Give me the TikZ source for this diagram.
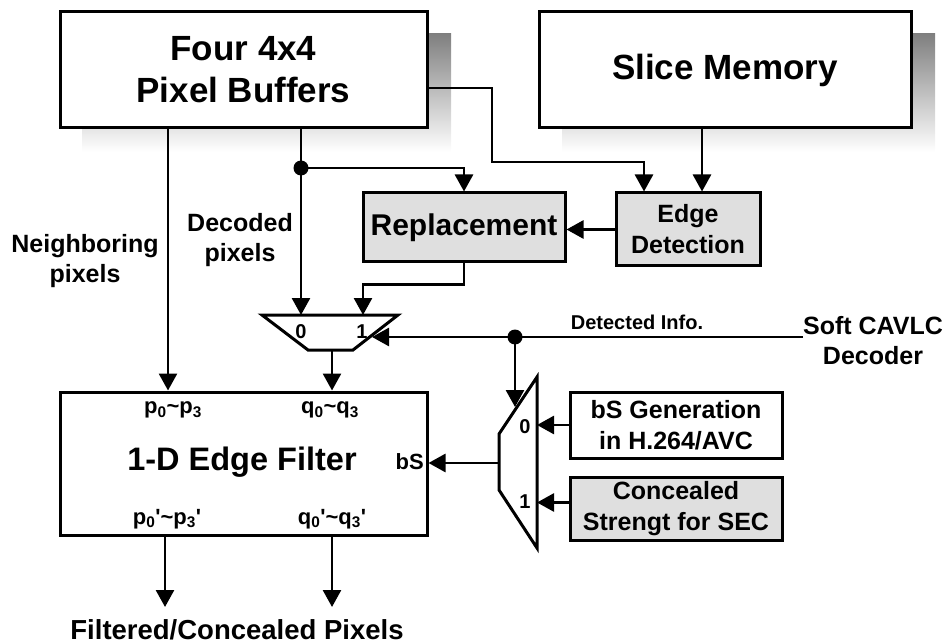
\documentclass[tikz,border=0pt]{standalone}
\usepackage{fontspec}
\setmainfont{Liberation Sans}
\usetikzlibrary{arrows.meta,calc}
\definecolor{shade}{HTML}{959595}
\definecolor{lite}{HTML}{DFDFDF}
\newcommand\fsz[2]{\fontsize{#1}{#2}\selectfont}
\begin{document}
\begin{tikzpicture}[x=1pt,y=-1pt,
  every node/.style={inner sep=0pt, align=center},
  box/.style={draw, line width=3pt, fill=white, inner sep=0pt, align=center},
  arr/.style={line width=2.7pt, -{Triangle[length=17pt,width=18pt]}},
  muxs/.style={line width=3pt, line join=miter},
  t35/.style={font=\bfseries\fsz{35}{42}},
  t25/.style={font=\bfseries\fsz{25}{30}},
  t22/.style={font=\bfseries\fsz{22}{26}},
  t20/.style={font=\bfseries\fsz{20}{24}}]
\useasboundingbox (0,0) rectangle (950,644);
% shadows
\fill[shade] (82,34) rectangle (451,152);
\fill[shade] (562,34) rectangle (935,152);
% boxes
\node[box, t35, minimum width=367pt, minimum height=116pt] (pb) at (243.5,70) {Four 4x4\\Pixel Buffers};
\node[box, t35, minimum width=372pt, minimum height=116pt] (sm) at (725,70) {Slice Memory};
\node[box, fill=lite, font=\bfseries\fsz{30}{36}, minimum width=202pt, minimum height=69pt] (rep) at (464,227.5) {Replacement};
\node[box, fill=lite, font=\bfseries\fsz{25}{31}, minimum width=144pt, minimum height=73pt] (ed) at (688,229.5) {Edge\\Detection};
\node[box, font=\bfseries\fsz{25}{31}, minimum width=212pt, minimum height=66pt] (bsg) at (676,425) {bS Generation\\in H.264/AVC};
\node[box, fill=lite, font=\bfseries\fsz{25}{31}, minimum width=212pt, minimum height=63pt] (cs) at (676,508.5) {Concealed\\Strengt for SEC};
\node[box, minimum width=367pt, minimum height=143pt] (ef) at (243.5,463.5) {};
% labels in edge filter
\node[font=\bfseries\fsz{32.5}{38}] (efl) at (242,462) {1-D Edge Filter};
\node[t22, anchor=east] (bsl) at (424,462) {bS};
\node[t22] (pin) at (173,410) {p\textsubscript{0}\textasciitilde p\textsubscript{3}};
\node[t22] (qin) at (330,410) {q\textsubscript{0}\textasciitilde q\textsubscript{3}};
\node[t22] (pout) at (167,519) {p\textsubscript{0}\textquotesingle\textasciitilde p\textsubscript{3}\textquotesingle};
\node[t22] (qout) at (332,519) {q\textsubscript{0}\textquotesingle\textasciitilde q\textsubscript{3}\textquotesingle};
% free labels
\node[t25] (nb) at (85,261) {Neighboring\\pixels};
\node[t25] (dp) at (240,240) {Decoded\\pixels};
\node[t25] (sc) at (873,341) {Soft CAVLC\\Decoder};
\node[t20] (di) at (637,322) {Detected Info.};
\node[font=\bfseries\fsz{27.5}{33}] (fc) at (237,630) {Filtered/Concealed Pixels};
% muxes
\draw[muxs] (262,315) -- (398,315) -- (353,350) -- (308,350) -- cycle;
\node[t20] (m1a) at (301,332) {0};
\node[t20] (m1b) at (362,332) {1};
\draw[muxs] (537,377) -- (537,548) -- (499,490) -- (499,434) -- cycle;
\node[t20] (m2a) at (525,427) {0};
\node[t20] (m2b) at (525,502) {1};
% coordinates
\coordinate (m1i0) at (301,315);
\coordinate (m1i1) at (363,315);
\coordinate (m1s) at (372,337);
\coordinate (m1o) at (332,350);
\coordinate (m2s) at (515,407);
\coordinate (m2o) at (499,463);
\coordinate (m2r) at (537,0);
\coordinate (xN) at (168,0);
\coordinate (xD) at (301,0);
\coordinate (dotA) at (301,168);
\coordinate (dotB) at (515,337);
\coordinate (dl) at (803,337);
\coordinate (c1) at (492,162);
\coordinate (xEd) at (644,0);
\coordinate (xSm) at (702,0);
\coordinate (o1) at (165,607);
\coordinate (o2) at (332,607);
% connectors
\draw[arr] (pb.south -| xN) -- (ef.north -| xN);
\draw[arr] (pb.south -| xD) -- (m1i0);
\draw[arr] (dotA) -| (rep.north);
\fill (dotA) circle (7.5);
\draw[arr] ($(pb.east)+(0,18)$) -| (c1) -| (ed.north -| xEd);
\draw[arr] (sm.south -| xSm) -- (ed.north -| xSm);
\draw[arr] (ed.west) -- (ed.west -| rep.east);
\draw[arr] (rep.south) -- ++(0,21) -| (m1i1);
\draw[arr] (m1o) -- (ef.north -| m1o);
\draw[arr] (dl) -- (m1s);
\draw[arr] (dotB) -- (m2s);
\fill (dotB) circle (7.5);
\draw[arr] (m2o) -- (ef.east |- m2o);
\draw[arr] (bsg.west) -- (bsg.west -| m2r);
\draw[arr] ($(cs.west)+(0,-6)$) -- ($(cs.west -| m2r)+(0,-6)$);
\draw[arr] (ef.south -| o1) -- (o1);
\draw[arr] (ef.south -| o2) -- (o2);
\end{tikzpicture}
\end{document}
